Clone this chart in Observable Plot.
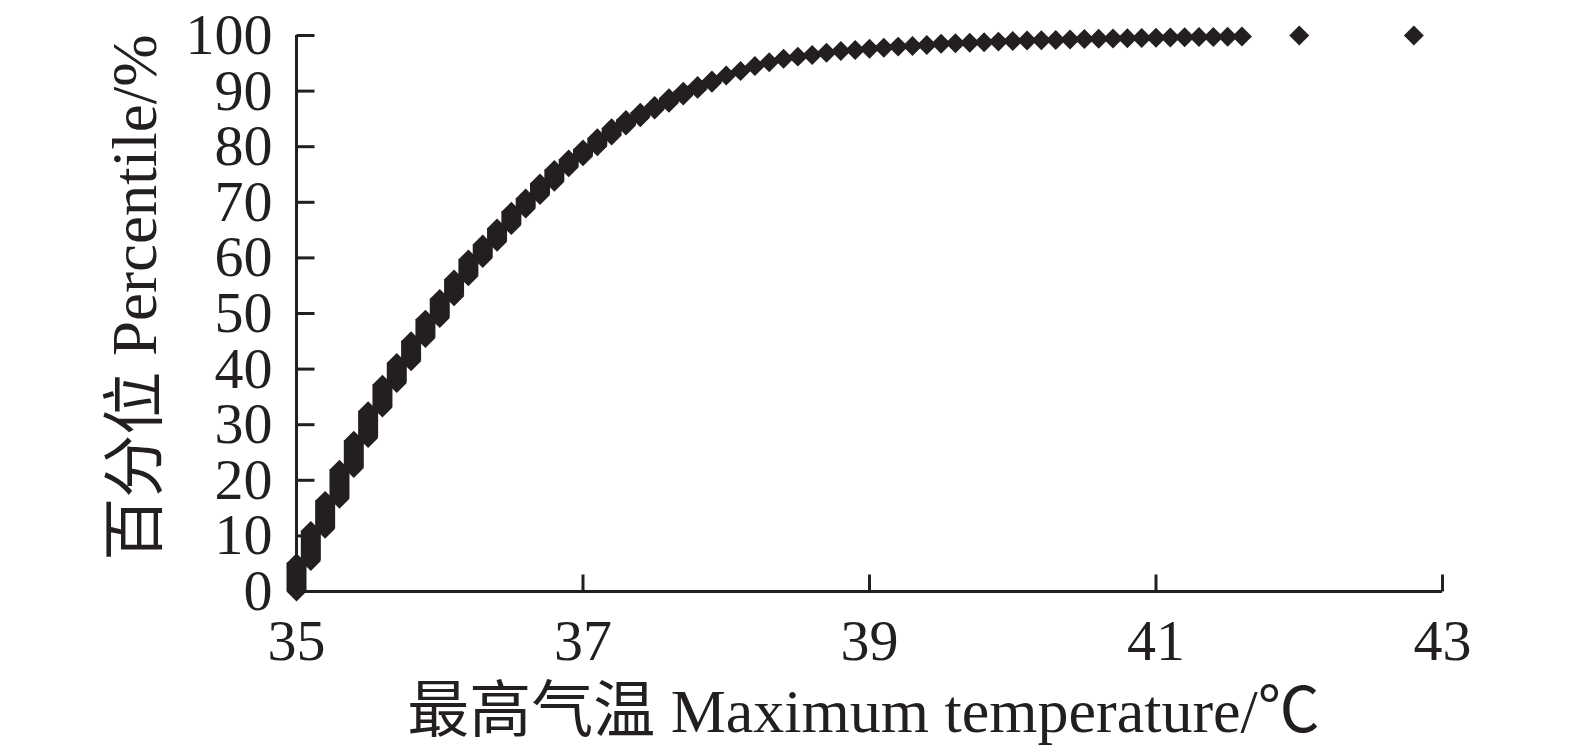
<!DOCTYPE html>
<html>
<head>
<meta charset="utf-8">
<script src="https://cdn.jsdelivr.net/npm/d3@7"></script>
<script src="https://cdn.jsdelivr.net/npm/@observablehq/plot@0.6"></script>
<style>
  html, body { margin: 0; padding: 0; background: #ffffff; }
  #chart svg { display: block; }
</style>
</head>
<body>
<div id="chart"></div>
<script>
// Maximum temperature (°C) at which observations occur
const temps = [
  35.0, 35.1, 35.2, 35.3, 35.4, 35.5, 35.6, 35.7, 35.8, 35.9,
  36.0, 36.1, 36.2, 36.3, 36.4, 36.5, 36.6, 36.7, 36.8, 36.9,
  37.0, 37.1, 37.2, 37.3, 37.4, 37.5, 37.6, 37.7, 37.8, 37.9,
  38.0, 38.1, 38.2, 38.3, 38.4, 38.5, 38.6, 38.7, 38.8, 38.9,
  39.0, 39.1, 39.2, 39.3, 39.4, 39.5, 39.6, 39.7, 39.8, 39.9,
  40.0, 40.1, 40.2, 40.3, 40.4, 40.5, 40.6, 40.7, 40.8, 40.9,
  41.0, 41.1, 41.2, 41.3, 41.4, 41.5, 41.6, 42.0, 42.8
];
// Lowest percentile of the observations at each temperature
const pctLow = [
  0.0, 5.5, 11.3, 16.7, 22.2, 27.6, 33.1, 37.5, 41.4, 45.6,
  49.2, 53.1, 56.7, 60.0, 62.9, 65.9, 68.9, 71.3, 73.7, 76.3,
  78.3, 80.1, 82.0, 83.8, 85.3, 86.7, 87.9, 89.2, 90.4, 91.5,
  92.8, 93.6, 94.5, 95.2, 95.8, 96.2, 96.5, 96.9, 97.2, 97.4,
  97.6, 97.8, 98.0, 98.1, 98.3, 98.5, 98.6, 98.7, 98.8, 98.9,
  99.0, 99.1, 99.15, 99.2, 99.3, 99.35, 99.4, 99.45, 99.5, 99.55,
  99.6, 99.65, 99.7, 99.72, 99.75, 99.78, 99.8, 100, 100
];
// Highest percentile of the observations at each temperature
const pctHigh = [
  5.1, 10.9, 16.3, 21.9, 27.1, 32.4, 37.2, 41.1, 45.0, 48.9,
  52.6, 56.1, 59.7, 62.4, 65.3, 68.3, 70.7, 73.4, 75.8, 77.7,
  79.5, 81.5, 83.3, 84.8, 86.1, 87.3, 88.7, 89.9, 90.9, 91.9,
  92.8, 93.6, 94.5, 95.2, 95.8, 96.2, 96.5, 96.9, 97.2, 97.4,
  97.6, 97.8, 98.0, 98.1, 98.3, 98.5, 98.6, 98.7, 98.8, 98.9,
  99.0, 99.1, 99.15, 99.2, 99.3, 99.35, 99.4, 99.45, 99.5, 99.55,
  99.6, 99.65, 99.7, 99.72, 99.75, 99.78, 99.8, 100, 100
];
const xTicks = [35, 37, 39, 41, 43];
const yTicks = [0, 10, 20, 30, 40, 50, 60, 70, 80, 90, 100];
const xTitle = "最高气温 Maximum temperature/℃";
const yTitle = "百分位 Percentile/%";

const ink = "#231f20";
const rows = temps.map((t, i) => ({t, lo: pctLow[i], hi: pctHigh[i]}));
const ends = rows.flatMap(d => d.lo === d.hi ? [{t: d.t, p: d.lo}] : [{t: d.t, p: d.lo}, {t: d.t, p: d.hi}]);

const tickRight = {draw(ctx) { ctx.moveTo(0, 0); ctx.lineTo(18, 0); }};
const tickUp = {draw(ctx) { ctx.moveTo(0, 0); ctx.lineTo(0, -17); }};

const chart = Plot.plot({
  width: 1575,
  height: 752,
  marginLeft: 296,
  marginRight: 133,
  marginTop: 35,
  marginBottom: 161,
  style: {fontFamily: "'Liberation Serif', 'Noto Sans CJK SC', serif", fontSize: "58px", color: ink, background: "#fff"},
  x: {domain: [35, 43], axis: null},
  y: {domain: [0, 100], axis: null},
  marks: [
    Plot.ruleY([0], {stroke: ink, strokeWidth: 3}),
    Plot.ruleX([35], {stroke: ink, strokeWidth: 3}),
    Plot.dot(yTicks.filter(d => d > 0), {y: d => d, frameAnchor: "left", symbol: tickRight, stroke: ink, strokeWidth: 3, fill: "none", r: 5}),
    Plot.dot(xTicks.filter(d => d > 35), {x: d => d, frameAnchor: "bottom", symbol: tickUp, stroke: ink, strokeWidth: 3, fill: "none", r: 5}),
    Plot.text(yTicks, {y: d => d, text: d => String(d), frameAnchor: "left", dx: -24, textAnchor: "end", lineAnchor: "middle", fill: ink, fontSize: 58}),
    Plot.text(xTicks, {x: d => d, text: d => String(d), frameAnchor: "bottom", dy: 68, lineAnchor: "bottom", fill: ink, fontSize: 58}),
    Plot.text([xTitle], {frameAnchor: "bottom", dx: -6, dy: 140, lineAnchor: "bottom", textAnchor: "middle", fill: ink, fontSize: 62}),
    Plot.text([yTitle], {frameAnchor: "left", rotate: -90, dx: -141, dy: -16, lineAnchor: "bottom", textAnchor: "middle", fill: ink, fontSize: 63}),
    Plot.ruleX(rows.filter(d => d.hi > d.lo), {x: "t", y1: "lo", y2: "hi", stroke: ink, strokeWidth: 20}),
    Plot.dot(ends, {x: "t", y: "p", symbol: "diamond2", r: 9, fill: ink, stroke: "none"})
  ]
});
document.getElementById("chart").appendChild(chart);
</script>
</body>
</html>
